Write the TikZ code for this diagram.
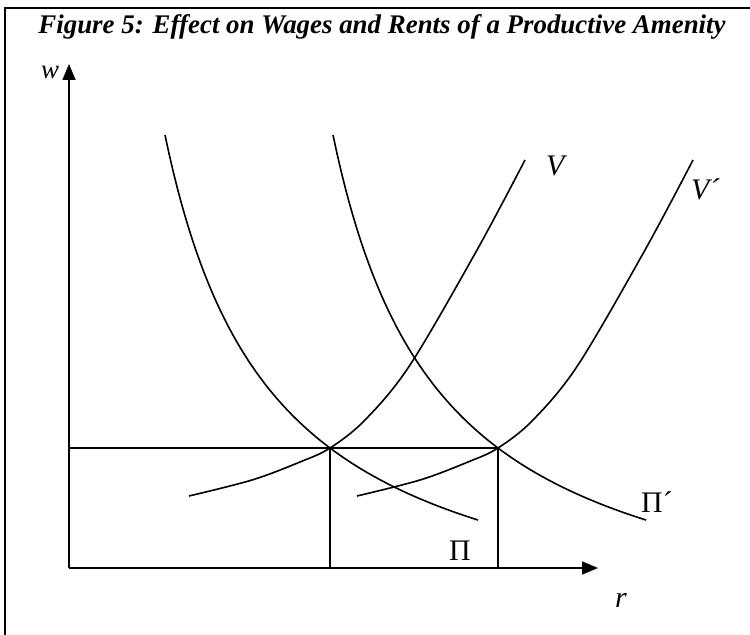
\documentclass[tikz,border=0pt]{standalone}
\usepackage{fontspec}
\setmainfont{Liberation Serif}
\usetikzlibrary{arrows.meta}
\tikzset{
  frameline/.style={line width=2.4bp},
  axisline/.style={-{Triangle[length=16bp, width=13bp]}, line width=1.6bp},
  curveline/.style={line width=1.6bp},
  guideline/.style={line width=1.6bp},
  titlelbl/.style={font=\fontsize{27}{27}\selectfont\bfseries\itshape, inner sep=0pt},
  curvelbl/.style={font=\fontsize{30}{30}\selectfont, inner sep=0pt, anchor=base west},
}

\begin{document}
\begin{tikzpicture}[x=1bp, y=-1bp]
    \useasboundingbox (0,0) rectangle (750,635);
    \draw[frameline] (5,635) -- (5,8) -- (750,8);
    \node[titlelbl, anchor=base] (title) at (382,34)
      {Figure 5: Effect on Wages and Rents of a Productive Amenity};

    % axes
    \coordinate (O) at (69,568);
    \coordinate (wtip) at (69,64);
    \coordinate (rtip) at (598,568);
    \draw[axisline] (O) -- (wtip);
    \draw[axisline] (O) -- (rtip);
    \node[curvelbl, font=\fontsize{27}{27}\selectfont\itshape] (wlbl) at (41,79) {w};
    \node[curvelbl, font=\fontsize{30}{30}\selectfont\itshape] (rlbl) at (615,607) {r};

    % equilibria
    \coordinate (A) at (330,448);
    \coordinate (B) at (498,448);
    \draw[guideline] (O |- A) -- (B);
    \draw[guideline] (A) -- (A |- O);
    \draw[guideline] (B) -- (B |- O);

    % Pi and V, then shifted copies
    \foreach \s in {0,168} {
      \draw[curveline, xshift=\s bp] plot[domain=165:478, samples=80]
        (\x, {652.8 - 558.97/((\x-57.05)/100)});
      \draw[curveline, xshift=\s bp] plot[smooth, tension=0.55] coordinates
        {(189,496) (252,480) (300,462) (330,448) (365,420) (410,365) (477,250) (525,160)};
    }
    \node[curvelbl, font=\fontsize{30}{30}\selectfont\itshape] (vlbl) at (546,176) {V};
    \node[curvelbl, font=\fontsize{30}{30}\selectfont\itshape] (vplbl) at (691,200) {V´};
    \node[curvelbl] (pilbl) at (449,560) {Π};
    \node[curvelbl] (piplbl) at (641,512) {Π´};
  \end{tikzpicture}
\end{document}
